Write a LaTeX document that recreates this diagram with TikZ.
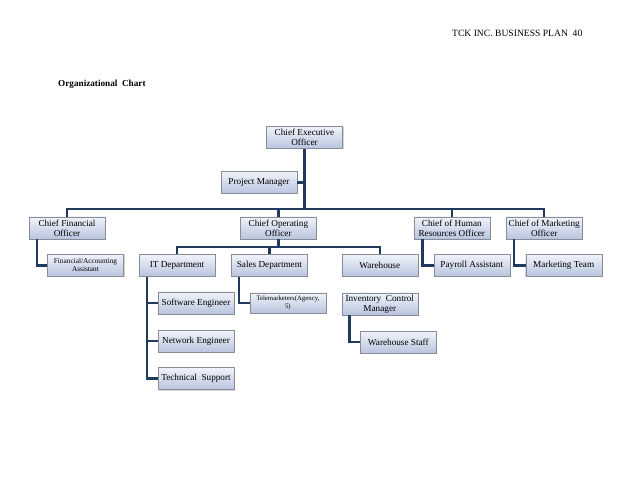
\documentclass[tikz,border=0pt]{standalone}
\usepackage{fontspec}
\setmainfont{Liberation Serif}
\usepackage{xcolor}
\definecolor{LinkNavy}{RGB}{31,58,92}
\definecolor{BoxTop}{RGB}{240,243,250}
\definecolor{BoxBottom}{RGB}{184,196,222}
\definecolor{BoxBorder}{RGB}{135,140,150}
\usetikzlibrary{
    positioning,
    calc,
    shadows
}

\begin{document}
\begin{tikzpicture}[
    x=1pt,
    y=1pt,
%
    unit/.style={
        draw=BoxBorder,
        top color=BoxTop,
        bottom color=BoxBottom,
        drop shadow={shadow xshift=1pt, shadow yshift=-1pt, opacity=0.35},
        minimum width=76pt,
        minimum height=22pt,
        inner sep=1pt,
        align=center,
        font=\fontsize{9.2}{10}\selectfont,
        line width=0.4pt
    },
%
    smallunit/.style={
        unit,
        font=\fontsize{7.3}{8}\selectfont
    },
%
    link/.style={
        draw=LinkNavy,
        line width=2.4pt
    }
]
\useasboundingbox (0,0) rectangle (638,493);
%
% Page header
%
\node[
    anchor=base west,
    inner sep=0pt,
    font=\fontsize{9.6}{11}\selectfont
] (header) at (452,456) {TCK INC. BUSINESS PLAN\enspace 40};
%
\node[
    anchor=west,
    inner sep=0pt,
    font=\bfseries\fontsize{9.2}{11}\selectfont
] (title) at (58,409) {Organizational\enspace Chart};
%
% Top level
%
\node[unit] (ceo) at (304.5,355.5) {
    Chief Executive\\
    Officer
};
%
\node[unit] (pm) at (259,310.5) {Project Manager};
%
% Chief officers row
%
\node[unit] (cfo) at (67,265) {
    Chief Financial\\
    Officer
};
%
\node[
    unit,
    right=135pt of cfo
] (coo) {
    Chief Operating\\
    Officer
};
%
\node[
    unit,
    right=97pt of coo
] (chro) {
    Chief of Human\\
    Resources Officer
};
%
\node[
    unit,
    right=16pt of chro
] (cmo) {
    Chief of Marketing\\
    Officer
};
%
\coordinate (bus) at ($(cfo.north)+(0,8pt)$);
\draw[link] (cfo.north) |- (bus) -| (cmo.north);
\draw[link] (ceo.south) -- (ceo.south |- bus);
\draw[link] (pm.east) -- (pm.east -| ceo.south);
\draw[link] (coo.north) -- (coo.north |- bus);
\draw[link] (chro.north) -- (chro.north |- bus);
%
% Assistants under the chiefs
%
\node[
    smallunit,
    below=15pt of cfo,
    xshift=18.5pt
] (finasst) {
    Financial/Accounting\\
    Assistant
};
%
\node[
    unit,
    below=15pt of chro,
    xshift=20pt
] (payroll) {Payroll Assistant};
%
\node[
    unit,
    below=15pt of cmo,
    xshift=19.5pt
] (mktteam) {Marketing Team};
%
\draw[link] ([xshift=8pt]cfo.south west) |- (finasst.west);
\draw[link] ([xshift=9pt]chro.south west) |- (payroll.west);
\draw[link] ([xshift=8pt]cmo.south west) |- (mktteam.west);
%
% Operations departments
%
\node[unit] (itdept) at (177,227.5) {IT Department};
%
\node[
    unit,
    right=16pt of itdept
] (sales) {Sales Department};
%
\node[
    unit,
    right=34pt of sales
] (warehouse) {Warehouse};
%
\coordinate (opsbus) at ($(itdept.north)+(0,7pt)$);
\draw[link] (itdept.north) |- (opsbus) -| (warehouse.north);
\draw[link] (coo.south) -- (coo.south |- opsbus);
\draw[link] (sales.north) -- (sales.north |- opsbus);
%
% IT staff
%
\node[
    unit,
    below=15pt of itdept,
    xshift=19pt
] (softeng) {Software Engineer};
%
\node[
    unit,
    below=16pt of softeng
] (neteng) {Network Engineer};
%
\node[
    unit,
    below=15pt of neteng
] (techsup) {Technical\enspace Support};
%
\draw[link] ([xshift=8pt]itdept.south west) |- (techsup.west);
\draw[link] ([xshift=8pt]itdept.south west) |- (softeng.west);
\draw[link] ([xshift=8pt]itdept.south west) |- (neteng.west);
%
% Sales and warehouse staff
%
\node[
    smallunit,
    minimum height=20pt,
    font=\fontsize{6.8}{7.5}\selectfont,
    below=16pt of sales,
    xshift=18.5pt
] (telemkt) {
    Telemarketers(Agency,\\
    5)
};
%
\node[
    unit,
    below=16pt of warehouse
] (invmgr) {
    Inventory\enspace Control\\
    Manager
};
%
\node[
    unit,
    below=16pt of invmgr,
    xshift=18.5pt
] (whstaff) {Warehouse Staff};
%
\draw[link] ([xshift=8pt]sales.south west) |- (telemkt.west);
\draw[link] ([xshift=8pt]invmgr.south west) |- (whstaff.west);
%
\end{tikzpicture}
\end{document}
